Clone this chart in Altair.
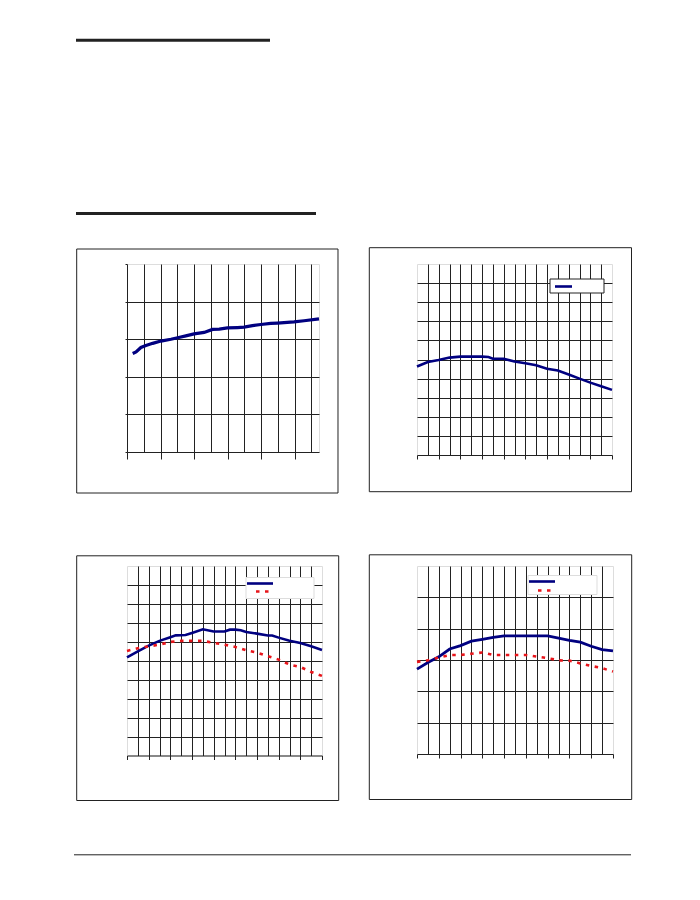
import altair as alt
import pandas as pd

# ---------------- data ----------------
# Panel 1 (top-left): one thick navy curve
P1_X = [0.34, 0.54, 0.83, 1.13, 1.53, 2.02, 2.62, 3.02, 3.51, 4.0, 4.6, 5.1,
        5.5, 5.99, 6.59, 6.98, 7.48, 7.98, 8.57, 8.97, 9.56, 9.96, 10.56, 11.45]
P1_Y = [2.62, 2.66, 2.78, 2.83, 2.89, 2.95, 3.0, 3.04, 3.09, 3.14, 3.18, 3.26,
        3.27, 3.30, 3.31, 3.32, 3.36, 3.39, 3.42, 3.43, 3.45, 3.46, 3.49, 3.54]

# Panel 2 (top-right): one navy curve
P2_X = [0, 1, 2, 3, 4, 5, 6, 6.6, 7, 8, 9, 10, 11, 12, 13, 14, 15, 16, 17, 18]
P2_Y = [4.63, 4.87, 4.97, 5.10, 5.15, 5.15, 5.15, 5.13, 5.04, 5.04, 4.90, 4.80,
        4.70, 4.52, 4.42, 4.21, 4.00, 3.79, 3.60, 3.41]

# Panel 3 (bottom-left): navy solid + red dotted
P3_XA = [0, 1, 2, 3, 4, 4.5, 5.4, 6, 7, 8, 9, 9.5, 10, 10.5, 11, 12, 13, 13.4,
         14, 15, 16, 17, 18]
P3_A = [5.18, 5.50, 5.80, 6.05, 6.24, 6.34, 6.36, 6.47, 6.66, 6.54, 6.54, 6.64,
        6.64, 6.61, 6.52, 6.43, 6.33, 6.33, 6.22, 6.05, 5.94, 5.76, 5.57]
P3_XB = [0, 1, 2, 3, 4, 5, 6, 7, 8, 9, 10, 11, 12, 13, 14, 15, 16, 17, 18]
P3_B = [5.52, 5.66, 5.76, 5.85, 5.99, 6.05, 6.05, 6.05, 5.94, 5.85, 5.73, 5.55,
        5.43, 5.24, 5.06, 4.80, 4.67, 4.41, 4.20]

# Panel 4 (bottom-right): navy solid + red dotted
P4_X = [0, 1, 2, 3, 4, 5, 6, 7, 8, 9, 10, 11, 12, 13, 14, 15, 16, 17, 18]
P4_A = [2.71, 2.92, 3.10, 3.35, 3.46, 3.60, 3.66, 3.72, 3.77, 3.77, 3.77, 3.77,
        3.77, 3.70, 3.63, 3.57, 3.44, 3.33, 3.29]
P4_B = [2.94, 2.99, 3.08, 3.16, 3.16, 3.20, 3.24, 3.16, 3.16, 3.16, 3.16, 3.11,
        3.06, 2.99, 2.98, 2.89, 2.81, 2.74, 2.63]

NAVY = "#000080"
RED = "#e8141a"
DARK = "#222222"
ONE = pd.DataFrame({"k": [0]})


def x_axis(nmax, grid_max, tick_size):
    return alt.Axis(
        values=list(range(0, nmax + 1)), labels=False, title="",
        grid=True, gridColor=DARK, gridWidth=1,
        gridOpacity={"condition": {"test": f"datum.value > 0 && datum.value <= {grid_max}", "value": 1}, "value": 0},
        ticks=True, tickColor=DARK, tickSize=tick_size, tickWidth=1,
        tickOpacity={"condition": {"test": "datum.value % 2 === 0", "value": 1}, "value": 0},
        domain=True, domainColor=DARK, domainWidth=1,
    )


def y_axis(nmax, with_ticks):
    kw = dict(
        values=list(range(0, nmax + 1)), labels=False, title="",
        grid=True, gridColor=DARK, gridWidth=1,
        gridOpacity={"condition": {"test": f"datum.value > 0 && datum.value < {nmax}", "value": 1}, "value": 0},
    )
    if with_ticks:
        kw.update(ticks=True, tickColor=DARK, tickSize=2, domain=True, domainColor=DARK, domainWidth=1)
    else:
        kw.update(ticks=False, domain=False)
    return alt.Axis(**kw)


def line_layer(xs, ys, xdom, ydom, xax, yax, color, width, dash=None):
    df = pd.DataFrame({"x": xs, "y": ys})
    mk = dict(color=color, strokeWidth=width, clip=False)
    if dash:
        mk["strokeDash"] = dash
    return alt.Chart(df).mark_line(**mk).encode(
        x=alt.X("x:Q", scale=alt.Scale(domain=xdom, nice=False, zero=False), axis=xax),
        y=alt.Y("y:Q", scale=alt.Scale(domain=ydom, nice=False, zero=False), axis=yax),
    )


def rect(x, x2, y, y2, stroke, fill="white", fill_opacity=1.0):
    return alt.Chart(ONE).mark_rect(
        fill=fill, fillOpacity=fill_opacity, stroke=stroke, strokeWidth=1
    ).encode(x=alt.value(x), x2=alt.value(x2), y=alt.value(y), y2=alt.value(y2))


def hrule(x, x2, y, color, width, dash=None):
    mk = dict(color=color, strokeWidth=width)
    if dash:
        mk["strokeDash"] = dash
    return alt.Chart(ONE).mark_rule(**mk).encode(
        x=alt.value(x), x2=alt.value(x2), y=alt.value(y))


# ---------------- panel 1 ----------------
xa1 = x_axis(11, 11, 7)
ya1 = y_axis(5, True)
p1 = alt.layer(
    rect(-50.3, 211, -15, 229, DARK, fill_opacity=0),
    hrule(-51, 143, -223.7, DARK, 3),
    hrule(-51, 189, -50.5, DARK, 3),
    line_layer(P1_X, P1_Y, [0, 11.45], [0, 5], xa1, ya1, NAVY, 3.2),
).properties(width=192, height=188)

# ---------------- panel 2 ----------------
xa2 = x_axis(18, 17, 4)
ya2 = y_axis(10, False)
p2 = alt.layer(
    rect(-47.7, 214.5, -16.3, 227.7, DARK, fill_opacity=0),
    line_layer(P2_X, P2_Y, [0, 18], [0, 10], xa2, ya2, NAVY, 2.6),
    rect(133, 187, 15, 29, DARK),
    hrule(138, 155, 22.5, NAVY, 2.6),
).properties(width=195, height=191)

# ---------------- panel 3 ----------------
xa3 = x_axis(18, 17, 4)
ya3 = y_axis(10, False)
p3 = alt.layer(
    rect(-50.3, 211.7, -10.2, 234.5, DARK, fill_opacity=0),
    hrule(-53, 504, 288.8, DARK, 1),
    line_layer(P3_XA, P3_A, [0, 18], [0, 10], xa3, ya3, NAVY, 2.6),
    line_layer(P3_XB, P3_B, [0, 18], [0, 10], xa3, ya3, RED, 2.6, [3.5, 5.5]),
    rect(119, 187, 11.5, 32.5, "#dddddd"),
    hrule(120, 146, 17.5, NAVY, 2.6),
    hrule(129, 142, 25.5, RED, 2.6, [3.5, 5.5]),
).properties(width=195, height=189.5)

# ---------------- panel 4 ----------------
xa4 = x_axis(18, 17, 4)
ya4 = y_axis(6, False)
p4 = alt.layer(
    rect(-47.7, 214.7, -11.2, 233.5, DARK, fill_opacity=0),
    line_layer(P4_X, P4_A, [0, 18], [0, 6], xa4, ya4, NAVY, 2.8),
    line_layer(P4_X, P4_B, [0, 18], [0, 6], xa4, ya4, RED, 2.6, [3.5, 5.5]),
    rect(111, 180, 9.5, 28.5, "#dddddd"),
    hrule(112, 138, 15.5, NAVY, 2.6),
    hrule(121, 134, 24.5, RED, 2.6, [3.5, 5.5]),
).properties(width=196, height=188)

chart = alt.concat(
    p1, p2, p3, p4, columns=2,
    spacing={"row": 111, "column": 95}, bounds="flush", align="none",
).properties(
    padding={"left": 65, "top": 30, "right": 0, "bottom": 0}
).configure_view(stroke="#999999", strokeWidth=1).configure(background="white")

chart.save("out.html", embed_options={"renderer": "svg", "actions": False})
